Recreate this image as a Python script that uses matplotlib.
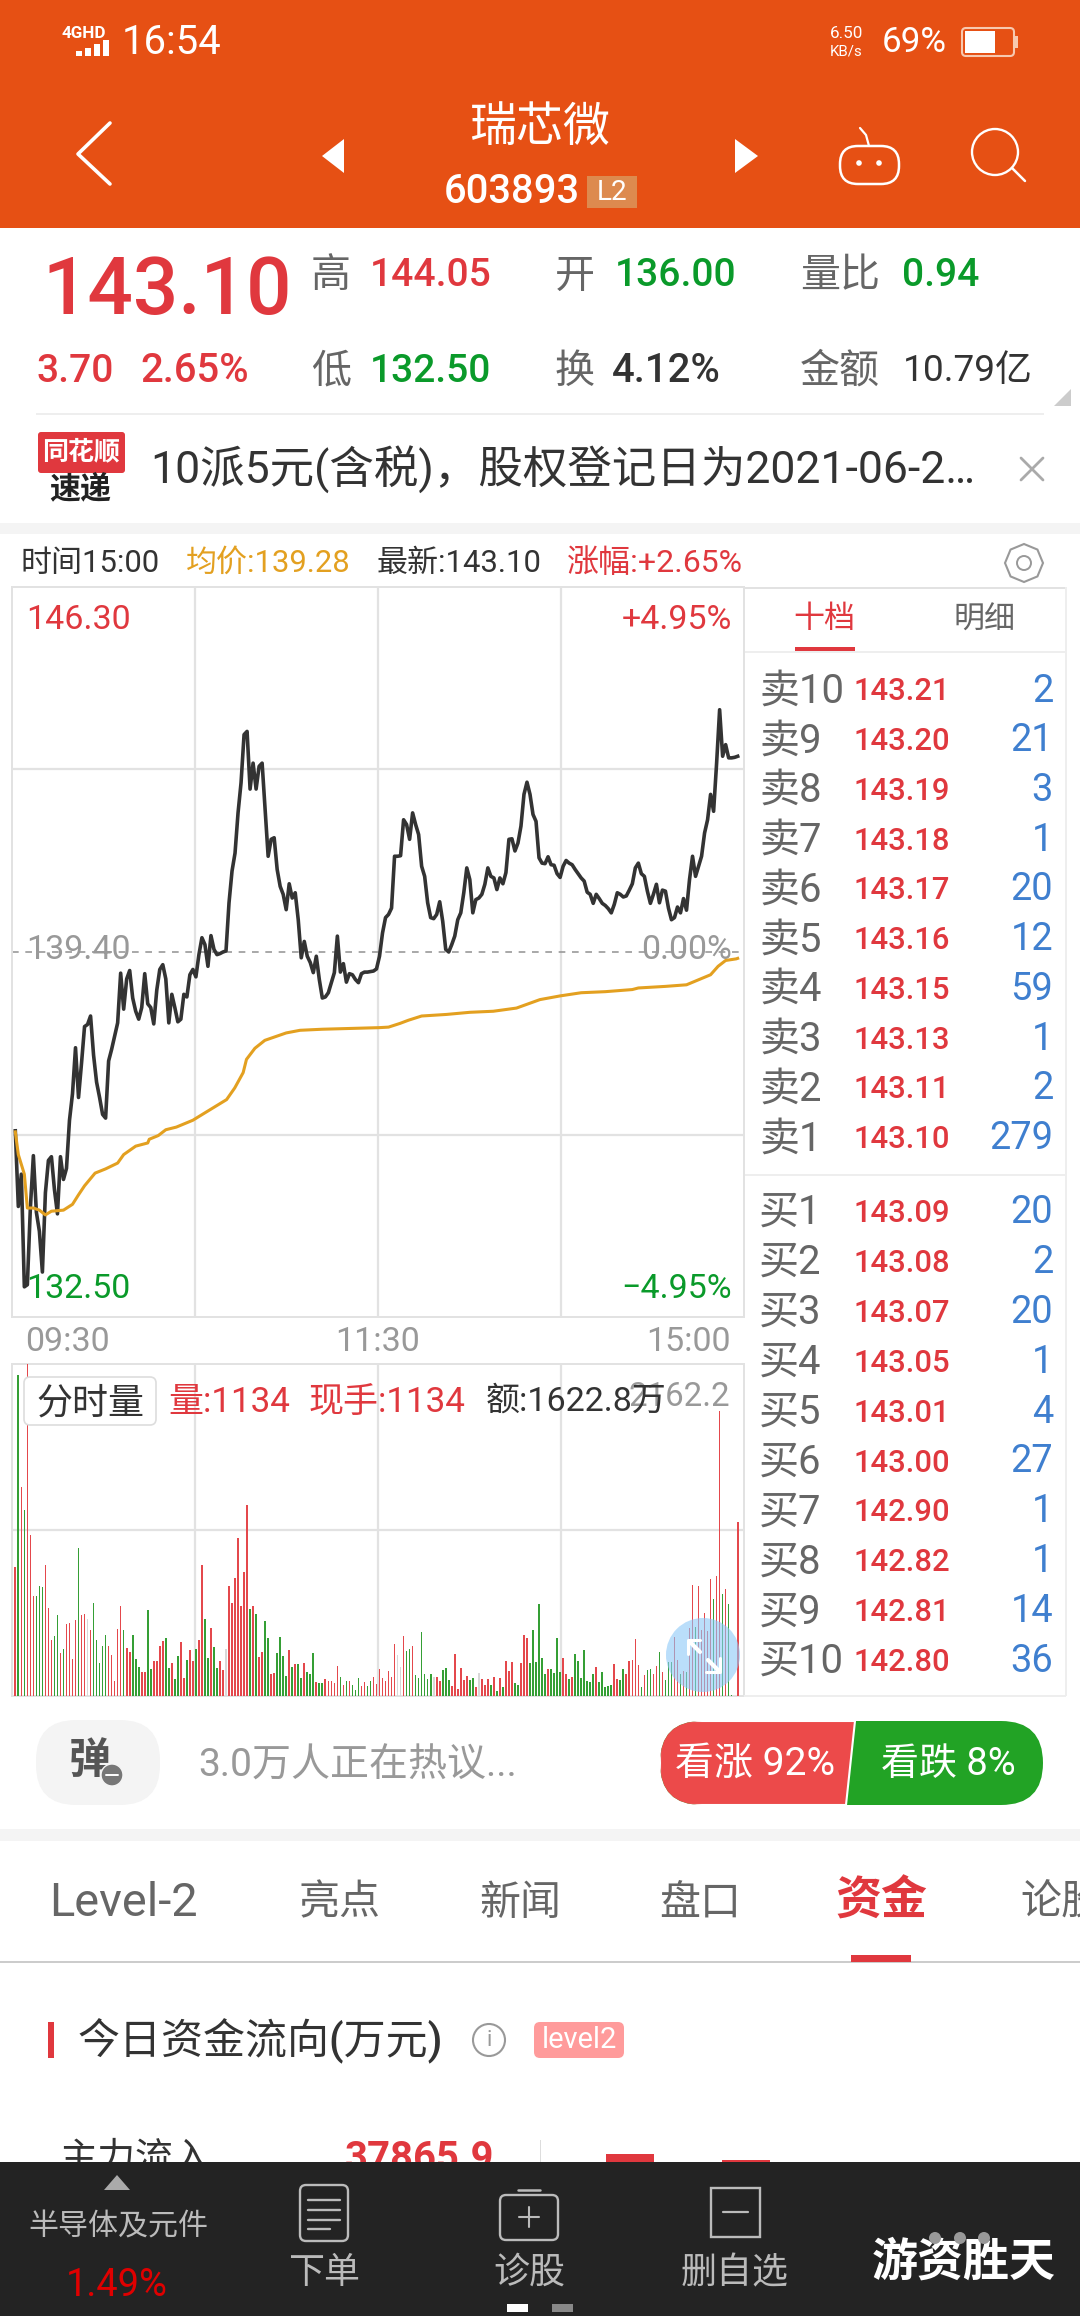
import matplotlib
matplotlib.use("Agg")
import matplotlib.pyplot as plt
from matplotlib.patches import Rectangle, Circle, FancyBboxPatch, Polygon, RegularPolygon

plt.rcParams['font.family'] = ['Roboto', 'Noto Sans CJK SC', 'DejaVu Sans']

# minute prices, 09:30 .. 15:00 (241 points)
price = [136.02, 134.59, 135.20, 133.07, 133.11, 134.56, 135.55, 134.48, 134.12, 133.35,
         134.85, 135.46, 135.53, 134.91, 134.45, 135.53, 135.10, 135.31, 136.22, 136.72,
         137.59, 136.65, 137.30, 137.99, 138.03, 138.19, 137.45, 136.94, 136.65, 136.33,
         136.26, 137.34, 137.56, 137.81, 138.06, 139.00, 138.32, 138.89, 139.05, 138.53,
         138.28, 138.13, 138.35, 138.99, 138.42, 138.35, 138.04, 138.68, 139.07, 139.16,
         138.89, 138.06, 138.60, 138.35, 138.08, 138.13, 138.60, 138.55, 138.97, 139.07,
         138.93, 139.35, 139.67, 139.54, 139.13, 139.71, 139.45, 139.35, 139.37, 139.40,
         139.42, 140.33, 140.93, 141.27, 142.03, 142.60, 143.51, 143.57, 142.48, 142.97,
         142.48, 142.91, 142.97, 142.09, 141.21, 141.53, 141.56, 140.96, 140.64, 140.49,
         140.20, 140.69, 140.42, 140.52, 140.01, 139.29, 139.60, 139.32, 139.20, 139.01,
         139.32, 138.88, 138.53, 138.55, 138.63, 138.82, 139.01, 139.70, 139.02, 139.18,
         138.83, 138.99, 138.97, 138.88, 138.82, 138.99, 139.02, 139.02, 139.03, 139.04,
         139.08, 139.32, 139.76, 140.05, 140.11, 140.23, 141.21, 141.21, 141.22, 141.90,
         141.81, 141.53, 142.03, 141.81, 141.62, 141.02, 140.83, 140.33, 140.05, 140.03,
         140.11, 140.35, 139.98, 139.45, 139.40, 139.54, 139.70, 140.01, 140.14, 140.52,
         140.99, 140.77, 140.14, 140.39, 140.42, 140.49, 140.68, 140.99, 140.83, 140.80,
         140.58, 140.80, 140.69, 140.90, 141.53, 141.54, 141.31, 141.46, 141.78, 142.38,
         142.61, 142.38, 142.00, 141.87, 141.18, 141.08, 141.07, 141.20, 141.05, 141.04,
         140.88, 140.81, 141.02, 141.13, 141.08, 141.05, 140.96, 140.88, 140.80, 140.74,
         140.53, 140.49, 140.32, 140.49, 140.41, 140.32, 140.28, 140.22, 140.14, 140.30,
         140.52, 140.49, 140.44, 140.46, 140.57, 140.69, 140.99, 141.08, 140.88, 140.83,
         140.55, 140.32, 140.49, 140.68, 140.33, 140.57, 140.55, 140.23, 140.01, 140.05,
         140.25, 140.14, 140.41, 140.19, 140.77, 141.21, 140.83, 141.02, 141.21, 141.65,
         141.90, 142.38, 142.06, 142.97, 143.98, 143.10, 143.32, 143.07, 143.07, 143.08,
         143.10]

# average price line, read at its bends
avg_min = [0, 1, 3, 4, 6, 8, 10, 12, 16, 19, 21, 23, 26.5, 30, 34, 36, 40, 44, 44.5, 47.5,
           50, 53.5, 59, 61, 70.2, 72.9, 75.7, 76.8, 79.6, 82.9, 90, 94.6, 102, 120.9,
           124, 127.8, 130.6, 135, 143.3, 151, 158.8, 166.5, 174.3, 181, 188, 196, 205,
           207, 216, 223, 231, 233.5, 236, 239.5, 240]
avg_price = [136.00, 135.57, 135.20, 134.56, 134.56, 134.52, 134.43, 134.50, 134.52, 134.63,
             134.81, 134.98, 135.22, 135.30, 135.41, 135.57, 135.73, 135.79, 135.86, 135.93,
             136.04, 136.09, 136.22, 136.29, 136.61, 136.83, 137.12, 137.37, 137.58, 137.73,
             137.87, 137.92, 137.94, 137.97, 137.98, 138.05, 138.11, 138.19, 138.22, 138.26,
             138.28, 138.34, 138.50, 138.57, 138.63, 138.65, 138.69, 138.72, 138.75, 138.78,
             138.97, 139.13, 139.24, 139.27, 139.28]

# minute volume
vol = [840, 2088, 1361, 1214, 2162, 1051, 653, 649, 719, 712,
       853, 575, 365, 389, 530, 280, 304, 467, 478, 239,
       497, 964, 525, 536, 504, 428, 604, 367, 213, 323,
       399, 328, 269, 100, 439, 586, 428, 310, 287, 399,
       241, 187, 158, 158, 558, 174, 226, 226, 328, 360,
       378, 182, 217, 109, 258, 350, 119, 232, 302, 228,
       308, 367, 851, 499, 250, 441, 317, 182, 228, 172,
       308, 719, 608, 769, 1027, 586, 810, 1246, 564, 586,
       532, 252, 289, 491, 380, 145, 150, 280, 382, 258,
       132, 302, 189, 206, 208, 115, 213, 158, 145, 280,
       93, 82, 82, 113, 100, 100, 87, 195, 126, 72,
       100, 100, 74, 37, 115, 63, 93, 67, 100, 124,
       80, 174, 117, 100, 165, 122, 337, 269, 189, 391,
       293, 304, 328, 135, 117, 417, 145, 109, 145, 124,
       124, 100, 167, 182, 106, 63, 271, 43, 180, 106,
       132, 106, 119, 61, 152, 109, 69, 111, 69, 122,
       35, 119, 56, 228, 161, 221, 82, 74, 213, 397,
       376, 215, 428, 224, 601, 250, 141, 174, 178, 152,
       378, 156, 250, 145, 113, 126, 271, 226, 117, 302,
       96, 93, 145, 191, 89, 158, 59, 65, 69, 211,
       111, 102, 178, 145, 228, 237, 369, 200, 56, 135,
       172, 176, 145, 193, 287, 156, 102, 221, 219, 384,
       232, 141, 163, 154, 445, 721, 449, 719, 428, 543,
       421, 760, 634, 779, 1856, 662, 699, 597, 9, 0,
       1134]
# r up, g down, n flat
vol_dir = ("rgrgrrrggg" "rrrggrgrrr" "rgrrnrgggg" "grrrrrgrrg" "ggrrggrrrr"
           "ggrggrrgrr" "grrggrggrr" "nrrrrrrrgr" "grrggrrggg" "grgrggrggg"
           "rggrrrrrgr" "grgggrrggr" "rrrrrrrnnr" "ggrggggggn" "rrgggrrrrr"
           "rggrnrrrgr" "grgrrrggrr" "rggggggrgg" "ggrrgrgggg" "gggrgggggr"
           "rggrrrrrgr" "ggrrgrgggr" "rgrgrrgrrr" "rrgrrgrggn" "r")

sell_lab = ["卖10", "卖9", "卖8", "卖7", "卖6", "卖5", "卖4", "卖3", "卖2", "卖1"]
sell_price = ["143.21", "143.20", "143.19", "143.18", "143.17", "143.16", "143.15", "143.13", "143.11", "143.10"]
sell_vol = ["2", "21", "3", "1", "20", "12", "59", "1", "2", "279"]
buy_lab = ["买1", "买2", "买3", "买4", "买5", "买6", "买7", "买8", "买9", "买10"]
buy_price = ["143.09", "143.08", "143.07", "143.05", "143.01", "143.00", "142.90", "142.82", "142.81", "142.80"]
buy_vol = ["20", "2", "20", "1", "4", "27", "1", "1", "14", "36"]

pre_close = 139.40
y_lo = 132.50
y_hi = 146.30
vol_max = 2162.2

RED = '#E0383E'
GREEN = '#0A9A2A'
GOLD = '#E3A020'
GRID = '#E2E2E2'
ORANGE = '#E65014'

W, H = 1080, 2316
fig = plt.figure(figsize=(W / 100, H / 100), dpi=100, facecolor='white')


def panel(x0, y0, x1, y1):
    a = fig.add_axes([x0 / W, 1 - y1 / H, (x1 - x0) / W, (y1 - y0) / H], zorder=1)
    a.set_xlim(-1.1, 242.1)
    a.set_xticks([-1.1 + 243.2 * k / 4 for k in (1, 2, 3)])
    a.tick_params(length=0, labelbottom=False, labelleft=False)
    a.grid(True, color=GRID, lw=1.6)
    a.set_axisbelow(True)
    for s in a.spines.values():
        s.set_color(GRID)
        s.set_linewidth(1.4)
    return a


# price panel, on top of the label layer so the lines cross the labels
ax = panel(12, 587, 744, 1317)
ax.set_zorder(6)
ax.patch.set_visible(False)
ax.set_ylim(y_lo, y_hi)
ax.set_yticks([(y_lo + pre_close) / 2, (y_hi + pre_close) / 2])
ax.plot(range(len(price)), price, color='#333333', lw=2.6, solid_joinstyle='round', zorder=3)
ax.plot(avg_min, avg_price, color=GOLD, lw=2.2, zorder=3)
ax.axhline(pre_close, color='#999999', lw=1.2, ls=(0, (4, 4)), zorder=2)

# volume panel
ax2 = panel(12, 1364, 744, 1696)
ax2.set_ylim(0, vol_max)
ax2.set_yticks([vol_max / 2])
cols = {'r': '#E4484C', 'g': '#359F35', 'n': '#D8D8D8'}
ax2.bar(range(len(vol)), vol, width=0.55, color=[cols[c] for c in vol_dir], zorder=3)

# everything else goes on a pixel layer
ui = fig.add_axes([0, 0, 1, 1], zorder=5)
ui.set_xlim(0, W)
ui.set_ylim(H, 0)
ui.axis('off')
ui.patch.set_visible(False)


def T(x, y, s, px, color='#333333', ha='left', weight='normal', **kw):
    ui.text(x, y + 5, s, fontsize=px * 0.72, color=color, ha=ha, va='center', weight=weight, **kw)


def R(x0, y0, x1, y1, color, z=1):
    ui.add_patch(Rectangle((x0, y0), x1 - x0, y1 - y0, fc=color, ec='none', zorder=z))


def L(xs, ys, color, lw=2.0, z=3):
    ui.plot(xs, ys, color=color, lw=lw, zorder=z, solid_capstyle='round')


def rbox(x0, y0, x1, y1, rad, fc, ec='none', lw=1.0, z=2):
    p = FancyBboxPatch((x0 + rad, y0 + rad), x1 - x0 - 2 * rad, y1 - y0 - 2 * rad,
                       boxstyle=f"round,pad={rad},rounding_size={rad}",
                       fc=fc, ec=ec, lw=lw, zorder=z)
    ui.add_patch(p)
    return p


# header
R(0, 0, W, 228, ORANGE)
T(62, 28, "4GHD", 17, 'white', weight='bold')
for i, bh in enumerate([5, 8, 12, 16]):
    R(76 + i * 9, 56 - bh, 82 + i * 9, 56, 'white', 3)
T(122, 37, "16:54", 40, 'white')
T(830, 29, "6.50", 17, 'white')
T(830, 47, "KB/s", 15, 'white')
T(882, 38, "69%", 35, 'white')
rbox(962, 28, 1014, 56, 4, 'none', ec='#F7C9B0', lw=1.5)
R(965, 31, 995, 53, 'white', 3)
R(1015, 36, 1018, 48, '#F7C9B0', 3)

L([110, 78, 110], [123, 154, 184], 'white', 2.6)
ui.add_patch(Polygon([(344, 139), (322, 156), (344, 173)], fc='white', ec='none', zorder=3))
ui.add_patch(Polygon([(735, 139), (758, 156), (735, 173)], fc='white', ec='none', zorder=3))
T(540, 124, "瑞芯微", 47, 'white', ha='center')
T(444, 187, "603893", 40, 'white', weight='medium')
R(587, 176, 637, 208, '#DD8A4F', 2)
T(612, 187, "L2", 28, 'white', ha='center')

# robot and search icons
rbox(840, 146, 899, 184, 18, 'none', ec='white', lw=1.8, z=3)
L([869, 866, 860], [146, 135, 128], 'white', 1.6)
ui.add_patch(Circle((859, 163), 2.8, fc='white', zorder=3))
ui.add_patch(Circle((879, 163), 2.8, fc='white', zorder=3))
ui.add_patch(Circle((995, 152), 23, fc='none', ec='white', lw=1.7, zorder=3))
L([1012, 1025], [168, 181], 'white', 1.8)

# quote block
T(42, 287, "143.10", 80, RED, weight='medium')
T(311, 271, "高", 40, '#666666')
T(370, 271, "144.05", 39, RED, weight='medium')
T(555, 271, "开", 40, '#666666')
T(615, 271, "136.00", 39, GREEN, weight='medium')
T(800, 271, "量比", 40, '#666666')
T(902, 271, "0.94", 39, GREEN, weight='medium')
T(37, 366, "3.70", 39, RED, weight='medium')
T(140, 366, "2.65%", 40, RED, weight='medium')
T(311, 366, "低", 40, '#666666')
T(370, 366, "132.50", 39, GREEN, weight='medium')
T(555, 366, "换", 40, '#666666')
T(612, 366, "4.12%", 40, '#333333', weight='medium')
T(800, 366, "金额", 40, '#666666')
T(903, 366, "10.79亿", 37, '#333333')
ui.add_patch(Polygon([(1071, 389), (1054, 406), (1071, 406)], fc='#CCCCCC', ec='none', zorder=3))
R(36, 413, 1044, 415, '#EEEEEE')

# news strip
rbox(38, 432, 125, 473, 3, RED)
T(81, 447, "同花顺", 26, 'white', ha='center', weight='bold', style='italic')
T(80, 484, "速递", 31, '#222222', ha='center', weight='bold', style='italic')
T(150, 465, "10派5元(含税)，股权登记日为2021-06-2…", 44.5, '#333333')
L([1021, 1043], [458, 480], '#AAAAAA', 2.0)
L([1043, 1021], [458, 480], '#AAAAAA', 2.0)
R(0, 523, W, 534, '#F4F4F4')

# info line above the chart
T(20, 558, "时间15:00", 31, '#333333')
T(186, 558, "均价:139.28", 31, GOLD)
T(377, 558, "最新:143.10", 31, '#333333')
T(567, 558, "涨幅:+2.65%", 32, RED)
ui.add_patch(RegularPolygon((1024, 563), 8, radius=19, fc='none', ec='#999999', lw=1.5, zorder=3))
ui.add_patch(Circle((1024, 563), 7, fc='none', ec='#999999', lw=1.4, zorder=3))

# price panel labels
T(26, 615, "146.30", 34, RED)
T(732, 615, "+4.95%", 34, RED, ha='right')
T(26, 945, "139.40", 34, '#999999')
T(732, 945, "0.00%", 34, '#999999', ha='right')
T(26, 1284, "132.50", 34, GREEN)
T(732, 1284, "−4.95%", 34, GREEN, ha='right')
T(25, 1337, "09:30", 34, '#999999')
T(378, 1337, "11:30", 34, '#999999', ha='center')
T(731, 1337, "15:00", 34, '#999999', ha='right')

# volume panel labels
rbox(24, 1377, 156, 1425, 6, 'white', ec='#DDDDDD', lw=1.2, z=4)
ui.text(90, 1404, "分时量", fontsize=36 * 0.72, color='#333333', ha='center', va='center', zorder=5)
T(168, 1397, "量:1134", 35, RED)
T(309, 1397, "现手:1134", 35, RED)
T(730, 1392, "2162.2", 33, '#999999', ha='right')
T(486, 1397, "额:1622.8万", 34, '#333333')

# the round zoom button
ui.add_patch(Circle((703, 1655), 37, fc='#8CC8F8', ec='none', alpha=0.6, zorder=3))
L([690, 700], [1642, 1652], 'white', 3.0, 4)
L([708, 718], [1660, 1670], 'white', 3.0, 4)
L([688, 688, 700], [1654, 1640, 1640], 'white', 2.2, 4)
L([706, 720, 720], [1672, 1672, 1658], 'white', 2.2, 4)

# order book on the right
R(744, 587, 1066, 589, GRID)
R(1065, 587, 1067, 1696, '#EEEEEE')
R(744, 1695, 1066, 1697, '#EEEEEE')
R(744, 651, 1066, 653, '#EEEEEE')
R(744, 1174, 1066, 1176, '#EEEEEE')
T(824, 615, "十档", 31, RED, ha='center')
R(795, 647, 855, 651, RED, 3)
T(985, 615, "明细", 31, '#666666', ha='center')
for i in range(10):
    y = 686 + i * 49.74
    T(759, y, sell_lab[i], 40, '#666666')
    T(854, y + 1, sell_price[i], 31, RED, weight='medium')
    T(1053, y, sell_vol[i], 38, '#3F7FCF', ha='right')
    y = 1207.5 + i * 49.9
    T(759, y, buy_lab[i], 40, '#666666')
    T(854, y + 1, buy_price[i], 31, RED, weight='medium')
    T(1053, y, buy_vol[i], 38, '#3F7FCF', ha='right')

# barrage row and bull / bear pill
rbox(36, 1720, 160, 1805, 40, '#F4F4F4')
T(90, 1756, "弹", 42, '#555555', ha='center', weight='bold')
ui.add_patch(Circle((112, 1775), 11, fc='#777777', ec='#F4F4F4', lw=1, zorder=4))
L([106, 118], [1775, 1775], 'white', 1.4, 5)
T(198, 1761, "3.0万人正在热议...", 39, '#999999')
pill = rbox(660, 1721, 1043, 1805, 42, '#22A325')
red_part = Polygon([(660, 1721), (855, 1721), (846, 1805), (660, 1805)], fc='#EC4A4A', ec='white', lw=1.5, zorder=3)
ui.add_patch(red_part)
red_part.set_clip_path(pill)
T(755, 1759, "看涨 92%", 39, 'white', ha='center')
T(948, 1759, "看跌 8%", 38, 'white', ha='center')
R(0, 1829, W, 1841, '#F4F4F4')

# tab row
T(49, 1898, "Level-2", 47, '#666666')
T(340, 1898, "亮点", 41, '#666666', ha='center')
T(520, 1898, "新闻", 41, '#666666', ha='center')
T(700, 1898, "盘口", 41, '#666666', ha='center')
T(881, 1896, "资金", 46, RED, ha='center', weight='bold')
T(1020, 1898, "论股", 41, '#666666')
R(0, 1961, W, 1963, '#CCCCCC')
R(851, 1955, 911, 1962, RED, 3)

# fund flow section, runs under the bottom bar
R(48, 2022, 54, 2058, RED)
T(78, 2036, "今日资金流向(万元)", 42, '#333333', weight='medium')
ui.add_patch(Circle((489, 2040), 16, fc='none', ec='#999999', lw=1.5, zorder=3))
T(489, 2035, "i", 22, '#999999', ha='center')
rbox(534, 2022, 624, 2058, 6, '#FF9B9B')
T(579, 2035, "level2", 29, 'white', ha='center')
T(60, 2154, "主力流入", 38, '#333333')
T(345, 2154, "37865.9", 40, RED, weight='bold')
R(540, 2140, 541, 2162, '#DDDDDD')
R(606, 2154, 654, 2162, RED)
R(722, 2160, 770, 2162, RED)

# bottom bar
R(0, 2162, W, H, '#232323', 6)


def B(x, y, s, px, color, weight='normal'):
    ui.text(x, y + 5, s, fontsize=px * 0.72, color=color, ha='center', va='center', weight=weight, zorder=8)


ui.add_patch(Polygon([(104, 2190), (130, 2190), (117, 2175)], fc='#AAAAAA', ec='none', zorder=7))
B(118, 2222, "半导体及元件", 30, '#BBBBBB')
B(117, 2281, "1.49%", 38, '#E00000')
B(324, 2268, "下单", 36, '#BBBBBB')
B(529, 2268, "诊股", 36, '#BBBBBB')
B(735, 2268, "删自选", 36, '#BBBBBB')
rbox(300, 2185, 348, 2241, 6, 'none', ec='#BBBBBB', lw=1.7, z=7)
for yy, xe in zip([2200, 2210, 2220, 2229], [340, 340, 340, 330]):
    L([308, xe], [yy, yy], '#BBBBBB', 1.7, 7)
rbox(500, 2195, 558, 2240, 6, 'none', ec='#BBBBBB', lw=1.7, z=7)
L([518, 540], [2190, 2190], '#BBBBBB', 1.8, 7)
L([519, 539], [2217, 2217], '#BBBBBB', 1.5, 7)
L([529, 529], [2207, 2227], '#BBBBBB', 1.5, 7)
ui.add_patch(Rectangle((711, 2188), 49, 49, fc='none', ec='#BBBBBB', lw=1.7, zorder=7))
L([723, 748], [2212, 2212], '#BBBBBB', 1.6, 7)
B(964, 2258, "游资胜天", 46, 'white', weight='bold')
for xd in (935, 960, 984):
    ui.add_patch(Circle((xd, 2238), 6, fc='#999999', ec='none', zorder=9))
R(507, 2304, 528, 2312, 'white', 7)
R(552, 2304, 573, 2312, '#888888', 7)

fig.savefig("out.png", dpi=100)
